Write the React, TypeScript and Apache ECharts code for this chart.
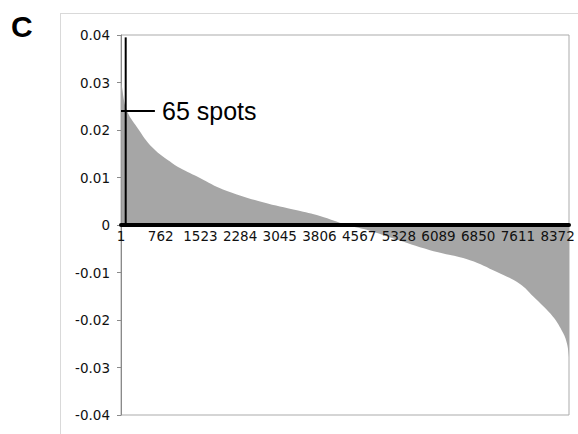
import React, { useEffect, useRef } from "react";
import * as echarts from "echarts";

// sorted spot values (rank index -> value)
const sampleIndex = [0, 13, 109, 307, 613, 997, 1131, 1514, 1955, 2722, 3374, 3815, 4333, 4774, 5215, 5925, 6691, 7209, 7650, 7900, 8283, 8475, 8552, 8590];
const sampleValue = [0.031, 0.0295, 0.0242, 0.0206, 0.0162, 0.0129, 0.012, 0.0099, 0.0075, 0.0048, 0.0031, 0.0019, 0.0, -0.0012, -0.0028, -0.0053, -0.0074, -0.0099, -0.0124, -0.015, -0.0193, -0.0227, -0.025, -0.0278];
const totalSpots = 8590;
const xTickStep = 761; // labels 1, 762, 1523, ... 8372
const thresholdIndex = 90; // "65 spots" marker
const thresholdTop = 0.0395;
const annotationY = 0.024;
const annotationEnd = 650;
const annotationText = "65 spots";
const panelLabel = "C";

export default function App() {
  const ref = useRef<HTMLDivElement>(null);
  useEffect(() => {
    if (!ref.current) return;
    const chart = echarts.init(ref.current, undefined, { renderer: "svg" });
    const areaData = sampleIndex.map((x, i) => [x, sampleValue[i]]);
    chart.setOption({
      animation: false,
      backgroundColor: "#fff",
      grid: { left: 121, top: 35, right: 9, bottom: 19, show: true, borderColor: "#ababab", borderWidth: 1 },
      xAxis: {
        type: "value",
        min: 0,
        max: totalSpots,
        interval: xTickStep,
        position: "bottom",
        offset: -190,
        z: 5,
        axisLine: { onZero: false, lineStyle: { color: "#000", width: 4 } },
        axisTick: { show: false },
        splitLine: { show: false },
        axisLabel: {
          formatter: (v: number) => String(v + 1),
          showMaxLabel: false,
          margin: 4,
          fontFamily: "DejaVu Sans",
          fontSize: 13.5,
          color: "#111",
        },
      },
      yAxis: {
        type: "value",
        min: -0.04,
        max: 0.04,
        interval: 0.01,
        axisLine: { show: true, lineStyle: { color: "#8a8a8a", width: 1 } },
        axisTick: { show: true, length: 4, lineStyle: { color: "#8a8a8a" } },
        splitLine: { show: false },
        axisLabel: {
          formatter: (v: number) => (Math.abs(v) < 1e-9 ? "0" : v.toFixed(2)),
          margin: 11,
          fontFamily: "DejaVu Sans",
          fontSize: 13.5,
          color: "#111",
        },
      },
      series: [
        {
          type: "line",
          data: areaData,
          smooth: 0.4,
          symbol: "none",
          lineStyle: { width: 0 },
          areaStyle: { color: "#a6a6a6", opacity: 1 },
          z: 2,
        },
        {
          type: "line",
          data: [[thresholdIndex, 0], [thresholdIndex, thresholdTop]],
          symbol: "none",
          lineStyle: { color: "#000", width: 2 },
          z: 6,
        },
        {
          type: "line",
          data: [[0, annotationY], [annotationEnd, annotationY]],
          symbol: "none",
          lineStyle: { color: "#000", width: 2 },
          z: 6,
        },
      ],
      graphic: [
        { type: "line", shape: { x1: 60, y1: 13.5, x2: 578, y2: 13.5 }, style: { stroke: "#d9d9d9", lineWidth: 1 } },
        { type: "line", shape: { x1: 60.5, y1: 13, x2: 60.5, y2: 434 }, style: { stroke: "#d9d9d9", lineWidth: 1 } },
        {
          type: "text",
          x: 11,
          y: 26,
          style: { text: panelLabel, font: "bold 30px 'Liberation Sans', Arial", fill: "#000", verticalAlign: "middle" },
        },
        {
          type: "text",
          x: 162,
          y: 111,
          z: 10,
          style: { text: annotationText, font: "25px 'Liberation Sans', Arial", fill: "#000", verticalAlign: "middle" },
        },
      ],
    });
    return () => chart.dispose();
  }, []);
  return <div ref={ref} style={{ position: "fixed", left: 0, top: 0, width: 578, height: 434 }} />;
}
